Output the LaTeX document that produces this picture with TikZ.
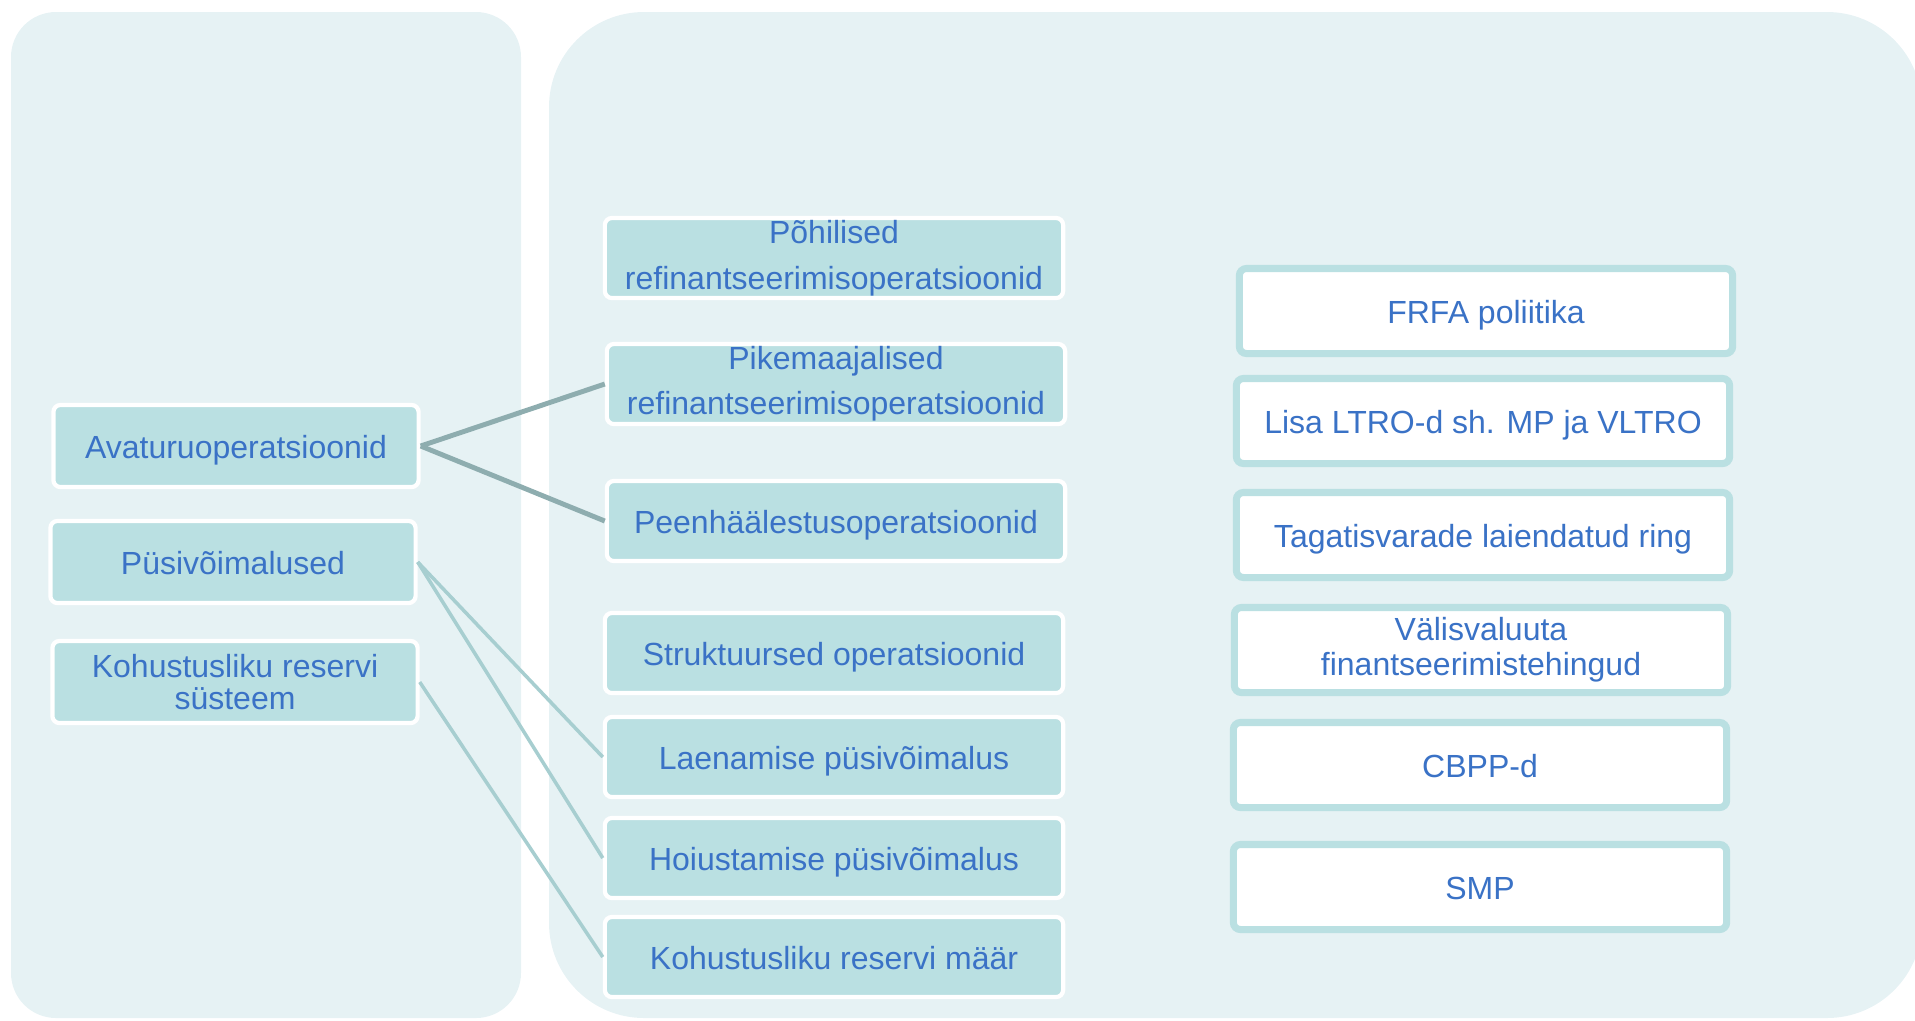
\documentclass[tikz,border=0pt]{standalone}
\usepackage{fontspec}
\setmainfont{Liberation Sans}
\usetikzlibrary{positioning}
\definecolor{Panel}{HTML}{E6F2F4}
\definecolor{BoxFill}{HTML}{BAE0E2}
\definecolor{Ink}{HTML}{3A72C6}
\definecolor{LinkDark}{HTML}{8EADAF}
\definecolor{LinkLight}{HTML}{A7CED0}

\begin{document}
\begin{tikzpicture}[x=0.01cm,y=-0.01cm,
  tealbox/.style={rectangle,rounded corners=2pt,fill=BoxFill,draw=white,line width=1.2pt,text=Ink,align=center,inner sep=0pt},
  leftbox/.style={tealbox,minimum width=3.65cm,minimum height=0.82cm},
  midbox/.style={tealbox,minimum width=4.58cm,minimum height=0.80cm},
  whitebox/.style={rectangle,rounded corners=2pt,fill=white,draw=BoxFill,line width=2pt,text=Ink,align=center,inner sep=0pt,minimum width=4.93cm,minimum height=0.85cm},
  txt/.style={font=\fontsize{9.1}{#1}\selectfont},
  oneline/.style={txt=11,text height=0.95em,text depth=0.22em},
  link/.style={line width=1.4pt,LinkDark},
  thinlink/.style={line width=1pt,LinkLight}]
\useasboundingbox (0,0) rectangle (1915,1020);
\begin{scope}
\clip (0,0) rectangle (1915,1020);
% panels
\fill[Panel,rounded corners=0.45cm] (11,12) rectangle (521,1018);
\fill[Panel,rounded corners=0.95cm] (549,12) rectangle (1922,1018);
\end{scope}
% left column
\node[leftbox,oneline] (avaturu) at (236,446) {Avaturuoperatsioonid};
\node[leftbox,oneline] (pysi) at (233,562) {Püsivõimalused};
\node[leftbox,txt=9.3] (kohsys) at (235,682) {Kohustusliku reservi\\süsteem};
% middle column
\node[midbox,txt=13] (pohi) at (834,258) {Põhilised\\refinantseerimisoperatsioonid};
\node[midbox,txt=12.8] (pikem) at (836,384) {Pikemaajalised\\refinantseerimisoperatsioonid};
\node[midbox,oneline] (peen) at (836,521) {Peenhäälestusoperatsioonid};
\node[midbox,oneline] (struk) at (834,653) {Struktuursed operatsioonid};
\node[midbox,oneline] (laen) at (834,757) {Laenamise püsivõimalus};
\node[midbox,oneline] (hoius) at (834,858) {Hoiustamise püsivõimalus};
\node[midbox,oneline] (kohmaar) at (834,957) {Kohustusliku reservi määr};
% right column
\node[whitebox,oneline] (frfa) at (1486,311) {FRFA poliitika};
\node[whitebox,oneline] (ltro) at (1483,421) {Lisa LTRO-d sh. MP ja VLTRO};
\node[whitebox,oneline] (tagatis) at (1483,535) {Tagatisvarade laiendatud ring};
\node[whitebox,txt=10] (valis) at (1481,650) {Välisvaluuta\\finantseerimistehingud};
\node[whitebox,oneline] (cbpp) at (1480,765) {CBPP-d};
\node[whitebox,oneline] (smp) at (1480,887) {SMP};
% connectors
\draw[link] (avaturu.east) -- (pikem.west);
\draw[link] (avaturu.east) -- (peen.west);
\draw[thinlink] (pysi.east) -- (laen.west);
\draw[thinlink] (pysi.east) -- (hoius.west);
\draw[thinlink] (kohsys.east) -- (kohmaar.west);
\end{tikzpicture}
\end{document}
